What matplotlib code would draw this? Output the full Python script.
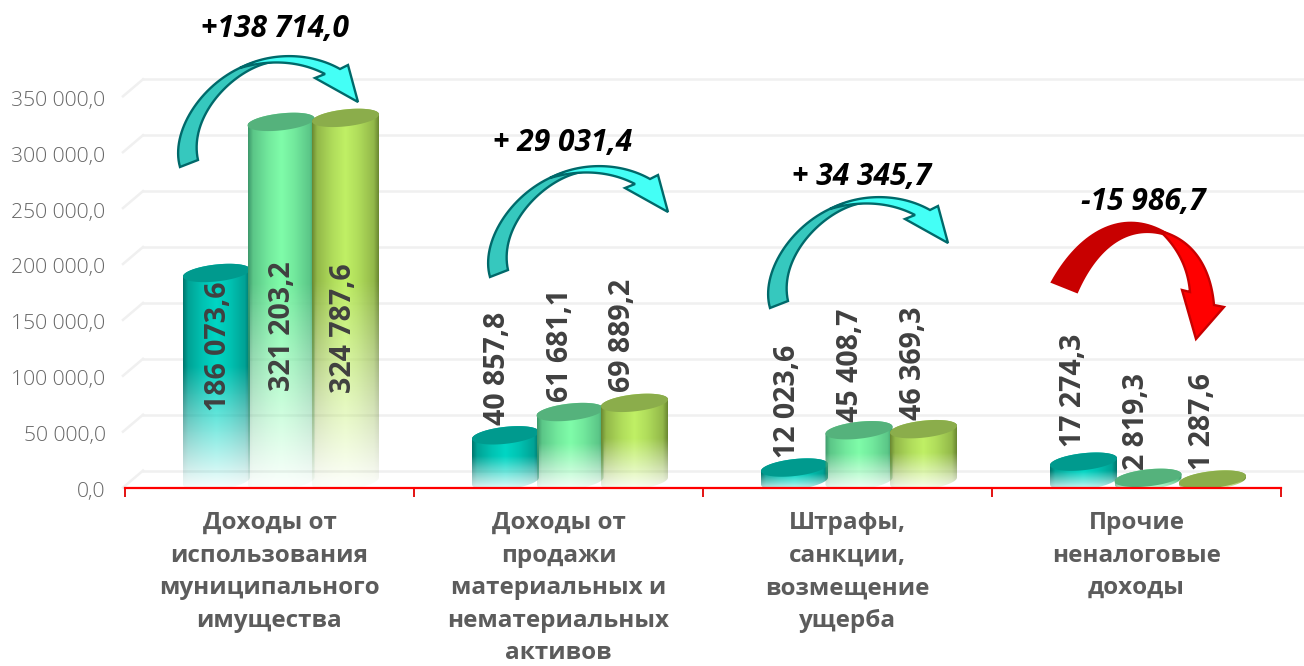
import numpy as np
import matplotlib
matplotlib.use('Agg')
from matplotlib import pyplot as plt
from matplotlib.colors import to_rgb
from matplotlib.patches import Polygon
from matplotlib.transforms import offset_copy, ScaledTranslation

categories = ['Доходы от\nиспользования\nмуниципального\nимущества',
              'Доходы от\nпродажи\nматериальных и\nнематериальных\nактивов',
              'Штрафы,\nсанкции,\nвозмещение\nущерба',
              'Прочие\nненалоговые\nдоходы']
series_1 = [186073.6, 40857.8, 12023.6, 17274.3]
series_2 = [321203.2, 61681.1, 45408.7, 2819.3]
series_3 = [324787.6, 69889.2, 46369.3, 1287.6]
deltas = ['+138 714,0', '+ 29 031,4', '+ 34 345,7', '-15 986,7']
y_ticks = [0, 50000, 100000, 150000, 200000, 250000, 300000, 350000]

# top, edge, centre
colors = [('#009A8E', '#00786F', '#00D6C4'),
          ('#55B27C', '#3E9A6C', '#7FFCA9'),
          ('#8BAD4B', '#6C8A32', '#C0F065')]
# where the value labels sit relative to the bar top, px
label_gap = [[-138, -269, -275], [10, 10, 11], [10, 8, 9], [15, 8, 10]]
label_dx = [[2, 1, -2], [-8, -10, -12], [-7, -9, -10], [-10, -11, -10]]

plt.rcParams['font.family'] = ['Open Sans', 'DejaVu Sans']

fig = plt.figure(figsize=(13.04, 6.66), dpi=100)
y0 = 487.6
ax = fig.add_axes([125 / 1304, (666 - y0) / 666, 1156 / 1304, y0 / 666])
ax.set_xlim(0, 4)
px_y = 55.9 / 50000
ax.set_ylim(0, y0 / px_y)
px_x = 289.0
ax.patch.set_alpha(0)

for s in ['top', 'left', 'right']:
    ax.spines[s].set_visible(False)
ax.spines['bottom'].set_color('#FF0000')
ax.spines['bottom'].set_linewidth(1.6)
ax.spines['bottom'].set_zorder(6)

ax.set_xticks(range(5), [''] * 5)
ax.tick_params(axis='x', which='major', color='#E00000', length=6.5, width=1.3)
ax.set_xticks(np.arange(4) + 0.5, categories, minor=True)
ax.tick_params(axis='x', which='minor', length=0, pad=17)
for t in ax.get_xticklabels(minor=True):
    t.set_fontsize(17.5)
    t.set_fontweight('bold')
    t.set_color('#5C5C5C')
    t.set_linespacing(1.47)

ax.set_yticks(y_ticks, [f'{v:,.1f}'.replace(',', ' ').replace('.', ',') for v in y_ticks])
ax.tick_params(axis='y', length=0, pad=14, labelsize=15.2, labelcolor='#666666')
for t in ax.get_yticklabels():
    t.set_fontweight(300)
    t.set_transform(t.get_transform() + ScaledTranslation(0, -2 / 100, fig.dpi_scale_trans))

# 3d back wall lines
grid_tr = offset_copy(ax.transData, fig=fig, x=18, y=17, units='dots')
for v in y_ticks:
    ax.plot([0, 4.2], [v, v], color='#F0F0F0', lw=1.8, transform=grid_tr, clip_on=False, zorder=1)
    ax.plot([-0.007, 18 / px_x], [v, v + 17 / px_y], color='#F0F0F0', lw=1.8, clip_on=False, zorder=1)

floor = 6.6 / px_y
a_px, b_px, k_px = 33.5, 8.5, 3.5
tt = np.linspace(0, 2 * np.pi, 80)


def ring(xc, yv, t):
    xs = xc + a_px * np.cos(t) / px_x
    ys = yv + (b_px * np.sin(t) + k_px * np.cos(t)) / px_y
    return np.column_stack([xs, ys])


def cylinder(xc, value, cols, z):
    top_c, edge, mid = [np.array(to_rgb(c)) for c in cols]
    top_y = floor + value
    h_px = value * px_y
    # side surface
    lower = ring(xc, floor, np.linspace(0, -np.pi, 40))
    upper = ring(xc, top_y, np.linspace(np.pi, 0, 40))
    side = Polygon(np.vstack([lower, upper]), closed=True, transform=ax.transData)
    u = np.linspace(0, 1, 68)
    w = np.interp(u, [0, 0.07, 0.3, 0.5, 0.7, 0.93, 1], [0, 0.45, 0.8, 1, 0.8, 0.45, 0])[None, :, None]
    rows = np.linspace(-b_px - k_px, h_px + b_px + k_px, 160)
    rgb = np.repeat(edge + (mid - edge) * w, len(rows), axis=0)
    alpha = np.clip((rows + 12) / (0.55 * h_px + 12), 0.05, 1)[:, None]
    alpha = np.repeat(alpha, len(u), axis=1)
    im = ax.imshow(np.dstack([rgb, alpha]), origin='lower', aspect='auto', zorder=z, interpolation='bilinear',
                   extent=[xc - a_px / px_x, xc + a_px / px_x,
                           floor + rows[0] / px_y, floor + rows[-1] / px_y])
    ax.add_patch(side)
    side.set_visible(False)
    im.set_clip_path(side)
    ax.add_patch(Polygon(ring(xc, top_y, tt), closed=True, fc=top_c, ec='none', zorder=z + 0.1))


step = 64.5 / px_x
shift = 11.5 / px_x
for i in range(len(categories)):
    xc = i + 0.5 + shift
    for j, vals in enumerate([series_1, series_2, series_3]):
        x = xc + (j - 1) * step
        cylinder(x, vals[i], colors[j], 3 + j)
        txt = f'{vals[i]:,.1f}'.replace(',', ' ').replace('.', ',')
        ax.annotate(txt, (x, floor + vals[i]), xytext=(label_dx[i][j], label_gap[i][j]),
                    textcoords='offset pixels', rotation=90, ha='center', va='bottom',
                    fontsize=20.5, fontweight='bold', color='#404040', zorder=8)

# overlay in picture pixels for the curved arrows
ov = fig.add_axes([0, 0, 1, 1])
ov.set_xlim(0, 1304)
ov.set_ylim(666, 0)
ov.axis('off')


def bez(p0, p1, p2, p3, n=40):
    t = np.linspace(0, 1, n)[:, None]
    p0, p1, p2, p3 = [np.array(p, float) for p in (p0, p1, p2, p3)]
    return (1 - t) ** 3 * p0 + 3 * (1 - t) ** 2 * t * p1 + 3 * (1 - t) * t ** 2 * p2 + t ** 3 * p3


def poly(pts, fc, ec):
    ov.add_patch(Polygon(pts, closed=True, fc=fc, ec=ec, lw=1.7, joinstyle='miter', zorder=9))


def teal_arrow(dx, dy):
    off = np.array([dx, dy])
    back = np.vstack([bez((180, 167), (168, 125), (215, 64), (272, 59)),
                      bez((272, 62), (235, 68), (188, 115), (198, 160))])
    poly(back + off, '#36C8BE', '#00696A')
    front = np.vstack([bez((240, 68), (270, 52), (310, 52), (340, 69)),
                       [(348, 65), (358, 102), (315, 78), (325, 74)],
                       bez((325, 74), (300, 61), (270, 59), (240, 68))])
    poly(front + off, '#44FFF6', '#00696A')


teal_arrow(0, 0)
teal_arrow(310, 110)
teal_arrow(590, 141)

back = np.vstack([bez((1052, 282), (1082, 228), (1128, 206), (1172, 237)),
                  bez((1172, 237), (1135, 222), (1100, 240), (1077, 292))])
poly(back, '#C80000', '#C80000')
front = np.vstack([bez((1160, 231), (1195, 240), (1211, 270), (1214, 305)),
                   [(1224, 307), (1196, 339), (1182, 290), (1190, 292)],
                   bez((1190, 292), (1188, 268), (1178, 248), (1160, 231))])
poly(front, '#FF0000', '#C80000')

delta_pos = [(275, 29), (563, 143), (862, 177), (1143, 202)]
for s, (px, py) in zip(deltas, delta_pos):
    ov.text(px, py, s, ha='center', va='center', fontsize=21.5, fontweight='bold',
            fontstyle='italic', color='black', zorder=10)

fig.savefig('out.png', dpi=100)
